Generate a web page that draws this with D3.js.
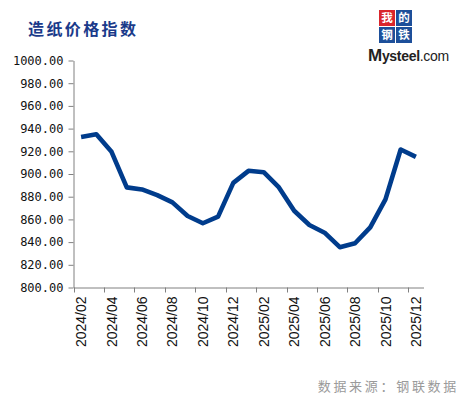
<!DOCTYPE html>
<html>
<head>
<meta charset="utf-8">
<script src="https://cdn.jsdelivr.net/npm/d3@7"></script>
<style>
  body { margin: 0; background: #fff; }
  svg { display: block; }
</style>
</head>
<body>
<svg id="chart" width="463" height="397"></svg>
<script>
// 造纸价格指数, monthly
const months = ['2024/02', '2024/03', '2024/04', '2024/05', '2024/06', '2024/07', '2024/08', '2024/09',
  '2024/10', '2024/11', '2024/12', '2025/01', '2025/02', '2025/03', '2025/04', '2025/05', '2025/06',
  '2025/07', '2025/08', '2025/09', '2025/10', '2025/11', '2025/12']
const paperIndex = [932.6, 935.0, 919.5, 888.2, 886.4, 881.4, 875.0, 863.0, 856.6, 862.4, 892.2, 902.8,
  901.6, 888.2, 867.6, 855.1, 848.3, 835.5, 839.0, 853.0, 877.7, 921.6, 915.1]
const yTicks = [800, 820, 840, 860, 880, 900, 920, 940, 960, 980, 1000]
const xLabels = months.filter((d, i) => i % 2 === 0)

const titleText = '造纸价格指数'
const sourceText = '数据来源：钢联数据'

const svg = d3.select('#chart')
const axisColor = '#808080'
const lineColor = '#003c8c'

const x = d3.scaleBand().domain(months).range([73.5, 423.5]).paddingInner(0).paddingOuter(0)
const y = d3.scaleLinear().domain([800, 1000]).range([287.5, 60.5])

// title
svg.append('text')
  .attr('x', 28).attr('y', 35)
  .attr('fill', '#1a3a8a')
  .style('font-family', '"Noto Sans CJK SC"')
  .style('font-weight', 'bold')
  .style('font-size', '16px')
  .style('letter-spacing', '2.4px')
  .text(titleText)

// y axis
const yAxis = svg.append('g')
  .attr('transform', 'translate(73.5,0)')
  .call(d3.axisLeft(y).tickValues(yTicks).tickSize(5).tickSizeOuter(0).tickFormat(d3.format('.2f')))
yAxis.select('.domain').attr('stroke', axisColor)
yAxis.selectAll('.tick line').attr('stroke', axisColor)
yAxis.selectAll('.tick text')
  .attr('x', -10)
  .attr('fill', '#111')
  .style('font-family', '"DejaVu Sans Mono"')
  .style('font-size', '12px')

// x axis: labels in the middle of the category, ticks on the category edge
const xAxis = svg.append('g')
  .attr('transform', 'translate(0,287.5)')
  .call(d3.axisBottom(x).tickValues(xLabels).tickSize(0).tickSizeOuter(0))
xAxis.select('.domain').attr('stroke', axisColor)
xAxis.selectAll('.tick text')
  .attr('transform', 'rotate(-90)')
  .attr('x', -9).attr('y', 0).attr('dy', '0.36em')
  .style('text-anchor', 'end')
  .attr('fill', '#111')
  .style('font-family', '"Liberation Sans"')
  .style('font-size', '14px')

svg.append('g').selectAll('line')
  .data(xLabels)
  .join('line')
  .attr('x1', d => Math.round(x(d)) + 0.5)
  .attr('x2', d => Math.round(x(d)) + 0.5)
  .attr('y1', 287.5).attr('y2', 292.5)
  .attr('stroke', axisColor)

// the line
const line = d3.line()
  .x((d, i) => x(months[i]) + x.bandwidth() / 2)
  .y(d => y(d))

svg.append('path')
  .datum(paperIndex)
  .attr('d', line)
  .attr('fill', 'none')
  .attr('stroke', lineColor)
  .attr('stroke-width', 4.6)
  .attr('stroke-linejoin', 'round')

// source note
svg.append('text')
  .attr('x', 459).attr('y', 391)
  .attr('text-anchor', 'end')
  .attr('fill', '#9a9a9a')
  .style('font-family', '"Noto Sans CJK SC"')
  .style('font-size', '13px')
  .style('letter-spacing', '2.7px')
  .text(sourceText)

// Mysteel logo
const logo = svg.append('g').attr('transform', 'translate(379,10)')
const cells = [
  { t: '我', c: '#d9262c', dx: 0, dy: 0 },
  { t: '的', c: '#1d4f9a', dx: 17, dy: 0 },
  { t: '钢', c: '#1d4f9a', dx: 0, dy: 17 },
  { t: '铁', c: '#1d4f9a', dx: 17, dy: 17 }
]
logo.selectAll('rect')
  .data(cells)
  .join('rect')
  .attr('x', d => d.dx).attr('y', d => d.dy)
  .attr('width', 16).attr('height', 16)
  .attr('fill', d => d.c)
logo.selectAll('text')
  .data(cells)
  .join('text')
  .attr('x', d => d.dx + 8).attr('y', d => d.dy + 12)
  .attr('text-anchor', 'middle')
  .attr('fill', '#fff')
  .style('font-family', '"Noto Sans CJK SC"')
  .style('font-weight', 'bold')
  .style('font-size', '11.5px')
  .text(d => d.t)

svg.append('text')
  .attr('x', 368).attr('y', 61)
  .attr('fill', '#222')
  .style('font-family', '"Liberation Sans"')
  .style('font-size', '14px')
  .style('letter-spacing', '-0.3px')
  .html('<tspan font-weight="bold" font-size="17px">M</tspan><tspan font-weight="bold">ysteel</tspan>.com')
</script>
</body>
</html>
